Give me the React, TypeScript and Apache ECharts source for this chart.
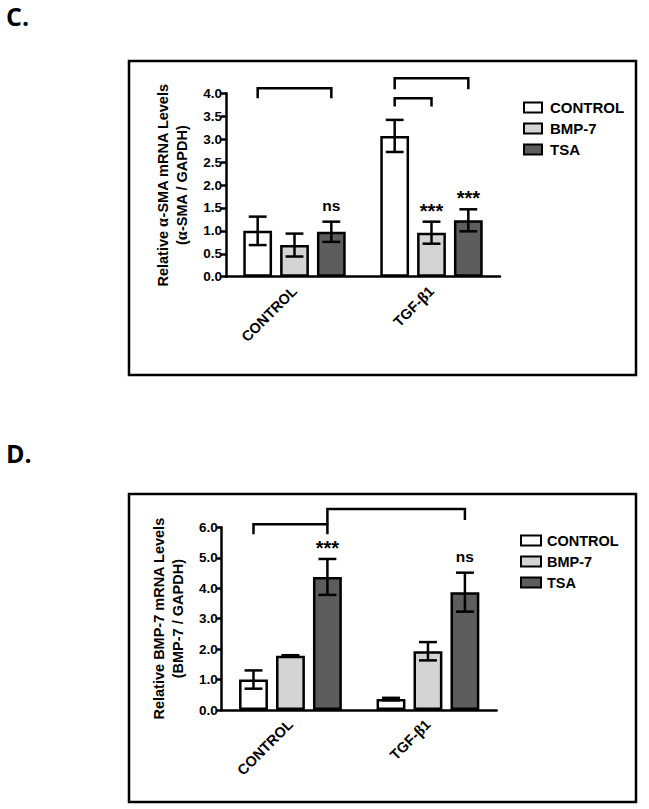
import React, { useEffect, useRef } from 'react';
import * as echarts from 'echarts';

const groups = ['CONTROL', 'TGF-β1'];
const seriesNames = ['CONTROL', 'BMP-7', 'TSA'];
const seriesColors = ['#ffffff', '#d4d4d4', '#5d5d5d'];

// Panel C: alpha-SMA
const smaControl = [1.0, 3.07];
const smaBmp7 = [0.69, 0.96];
const smaTsa = [0.98, 1.23];
const smaControlErr = [0.31, 0.35];
const smaBmp7Err = [0.25, 0.24];
const smaTsaErr = [0.22, 0.24];
const smaSig = [['', ''], ['', '***'], ['ns', '***']];
// [groupFrom, barFrom, groupTo, barTo, top, leftLegEnd, rightLegEnd]
const smaBrackets = [
  [0, 0, 0, 2, 4.11, 3.89, 3.89],
  [1, 0, 1, 2, 4.33, 4.09, 4.09],
  [1, 0, 1, 1, 3.89, 3.71, 3.71],
];

// Panel D: BMP-7
const bmpControl = [1.0, 0.36];
const bmpBmp7 = [1.78, 1.93];
const bmpTsa = [4.37, 3.87];
const bmpControlErr = [0.3, 0.04];
const bmpBmp7Err = [0.02, 0.3];
const bmpTsaErr = [0.59, 0.64];
const bmpSig = [['', ''], ['', ''], ['***', 'ns']];
const bmpBrackets = [
  [0, 0, 0, 2, 6.1, 5.77, 5.77],
  [0, 2, 1, 2, 6.6, 6.1, 6.24],
];

const BAR_W = 0.21;
const BAR_GAP = 0.28;
const SANS = 'Liberation Sans, Arial, sans-serif';
const SERIF = 'Liberation Serif, DejaVu Serif, serif';

function barX(api: any, cat: number, idx: number) {
  const c = api.coord([cat, 0]);
  const band = api.size([1, 0])[0];
  const w = band * BAR_W;
  return { x: c[0] + (idx - 1) * w * (1 + BAR_GAP), w };
}

function greekRich(s: string) {
  return s.replace(/([αβ])/g, '{g|$1}');
}

function panel(
  gi: number,
  means: number[][],
  errs: number[][],
  sig: string[][],
  brackets: number[][]
) {
  const series: any[] = [];
  means.forEach((m, si) => {
    series.push({
      type: 'bar',
      name: seriesNames[si],
      xAxisIndex: gi,
      yAxisIndex: gi,
      data: m,
      barWidth: '21%',
      barGap: '28%',
      itemStyle: { color: seriesColors[si], borderColor: '#000', borderWidth: 2.5 },
      z: 2,
    });
  });
  const errData: number[][] = [];
  means.forEach((m, si) => {
    m.forEach((v, ci) => {
      errData.push([ci, si, v - errs[si][ci], v + errs[si][ci]]);
    });
  });
  series.push({
    type: 'custom',
    xAxisIndex: gi,
    yAxisIndex: gi,
    data: errData,
    z: 4,
    silent: true,
    encode: { x: 0, y: [2, 3] },
    renderItem: (params: any, api: any) => {
      const ci = api.value(0);
      const si = api.value(1);
      const lo = api.coord([ci, api.value(2)])[1];
      const hi = api.coord([ci, api.value(3)])[1];
      const { x, w } = barX(api, ci, si);
      const h = w * 0.31;
      const st = { stroke: '#000', lineWidth: 2.5, fill: null };
      const children: any[] = [
        { type: 'line', shape: { x1: x, y1: lo, x2: x, y2: hi }, style: st },
        { type: 'line', shape: { x1: x - h, y1: hi, x2: x + h, y2: hi }, style: st },
        { type: 'line', shape: { x1: x - h, y1: lo, x2: x + h, y2: lo }, style: st },
      ];
      const s = sig[si][ci];
      if (s) {
        const star = s.indexOf('*') >= 0;
        children.push({
          type: 'text',
          x: x,
          y: star ? hi - 1 : hi - 8,
          style: {
            text: s,
            fill: '#000',
            font: star ? `bold 20px ${SANS}` : `bold 15.5px ${SANS}`,
            align: 'center',
            verticalAlign: 'bottom',
          },
        });
      }
      return { type: 'group', children };
    },
  });
  series.push({
    type: 'custom',
    xAxisIndex: gi,
    yAxisIndex: gi,
    data: brackets,
    z: 4,
    silent: true,
    clip: false,
    encode: { x: 0, y: 4 },
    renderItem: (params: any, api: any) => {
      const x1 = barX(api, api.value(0), api.value(1)).x;
      const x2 = barX(api, api.value(2), api.value(3)).x;
      const yt = api.coord([0, api.value(4)])[1];
      const yl = api.coord([0, api.value(5)])[1];
      const yr = api.coord([0, api.value(6)])[1];
      return {
        type: 'polyline',
        shape: { points: [[x1, yl], [x1, yt], [x2, yt], [x2, yr]] },
        style: { stroke: '#000', lineWidth: 2.5, fill: null },
      };
    },
  });
  return series;
}

function xAxis(gi: number) {
  return {
    type: 'category',
    gridIndex: gi,
    data: groups,
    axisLine: { lineStyle: { color: '#000', width: 2.5 } },
    axisTick: { alignWithLabel: true, length: 6, lineStyle: { color: '#000', width: 2.5 } },
    axisLabel: {
      rotate: 45,
      margin: 12,
      color: '#000',
      fontWeight: 'bold',
      fontSize: 14.5,
      fontFamily: SANS,
      formatter: (v: string) => greekRich(v),
      rich: { g: { fontFamily: SERIF, fontSize: 16, color: '#000' } },
    },
    splitLine: { show: false },
  };
}

function yAxis(gi: number, max: number, interval: number, name: string, nameGap: number) {
  return {
    type: 'value',
    gridIndex: gi,
    min: 0,
    max,
    interval,
    name,
    nameLocation: 'middle',
    nameRotate: 90,
    nameGap,
    nameTextStyle: {
      align: 'center',
      fontSize: 14.5,
      fontWeight: 'bold',
      fontFamily: SANS,
      color: '#000',
      lineHeight: 19,
      rich: {
        t: { fontWeight: 'bold', fontSize: 14.5, fontFamily: SANS, color: '#000', lineHeight: 19 },
        g: { fontSize: 16, fontFamily: SERIF, color: '#000', lineHeight: 19 },
      },
    },
    axisLine: { show: true, lineStyle: { color: '#000', width: 2.5 } },
    axisTick: { show: true, length: 5, lineStyle: { color: '#000', width: 2.5 } },
    axisLabel: {
      margin: 4,
      color: '#000',
      fontWeight: 'bold',
      fontSize: 13.5,
      fontFamily: SANS,
      formatter: (v: number) => v.toFixed(1),
    },
    splitLine: { show: false },
  };
}

function legend(left: number, top: number, w: number, fs: number, pad: number) {
  return {
    orient: 'vertical',
    left,
    top,
    icon: 'rect',
    itemWidth: w,
    itemHeight: 10,
    itemGap: 6,
    selectedMode: false,
    data: seriesNames,
    itemStyle: { borderColor: '#000', borderWidth: 2 },
    textStyle: {
      color: '#000',
      fontWeight: 'bold',
      fontSize: fs,
      fontFamily: SANS,
      padding: [0, 0, 0, pad],
    },
  };
}

export default function App() {
  const ref = useRef<HTMLDivElement>(null);
  useEffect(() => {
    if (!ref.current) return;
    const chart = echarts.init(ref.current, undefined, { renderer: 'svg' });
    const option: any = {
      animation: false,
      backgroundColor: '#fff',
      grid: [
        { left: 226, top: 93.3, width: 274, height: 183.4 },
        { left: 221.7, top: 527.3, width: 275, height: 182.7 },
      ],
      xAxis: [xAxis(0), xAxis(1)],
      yAxis: [
        yAxis(0, 4, 0.5, '{t|Relative }{g|α}{t|-SMA mRNA Levels}\n{t|(}{g|α}{t|-SMA / GAPDH)}', 35),
        yAxis(1, 6, 1, '{t|Relative BMP-7 mRNA Levels}\n{t|(BMP-7 / GAPDH)}', 34),
      ],
      legend: [legend(518, 95, 18, 15, 3), legend(515, 528, 20, 14.5, 1)],
      graphic: [
        {
          type: 'rect',
          shape: { x: 129, y: 61, width: 507, height: 314 },
          style: { fill: null, stroke: '#000', lineWidth: 2.5 },
        },
        {
          type: 'rect',
          shape: { x: 129, y: 494, width: 507, height: 308 },
          style: { fill: null, stroke: '#000', lineWidth: 2.5 },
        },
        {
          type: 'text',
          x: 6,
          y: 3,
          style: { text: 'C.', font: 'bold 25px "Open Sans", sans-serif', fill: '#000', verticalAlign: 'top' },
        },
        {
          type: 'text',
          x: 6,
          y: 440,
          style: { text: 'D.', font: 'bold 25px "Open Sans", sans-serif', fill: '#000', verticalAlign: 'top' },
        },
      ],
      series: [
        ...panel(
          0,
          [smaControl, smaBmp7, smaTsa],
          [smaControlErr, smaBmp7Err, smaTsaErr],
          smaSig,
          smaBrackets
        ),
        ...panel(
          1,
          [bmpControl, bmpBmp7, bmpTsa],
          [bmpControlErr, bmpBmp7Err, bmpTsaErr],
          bmpSig,
          bmpBrackets
        ),
      ],
    };
    chart.setOption(option);
    return () => chart.dispose();
  }, []);
  return (
    <div
      ref={ref}
      style={{ position: 'absolute', left: 0, top: 0, width: 649, height: 809 }}
    />
  );
}
